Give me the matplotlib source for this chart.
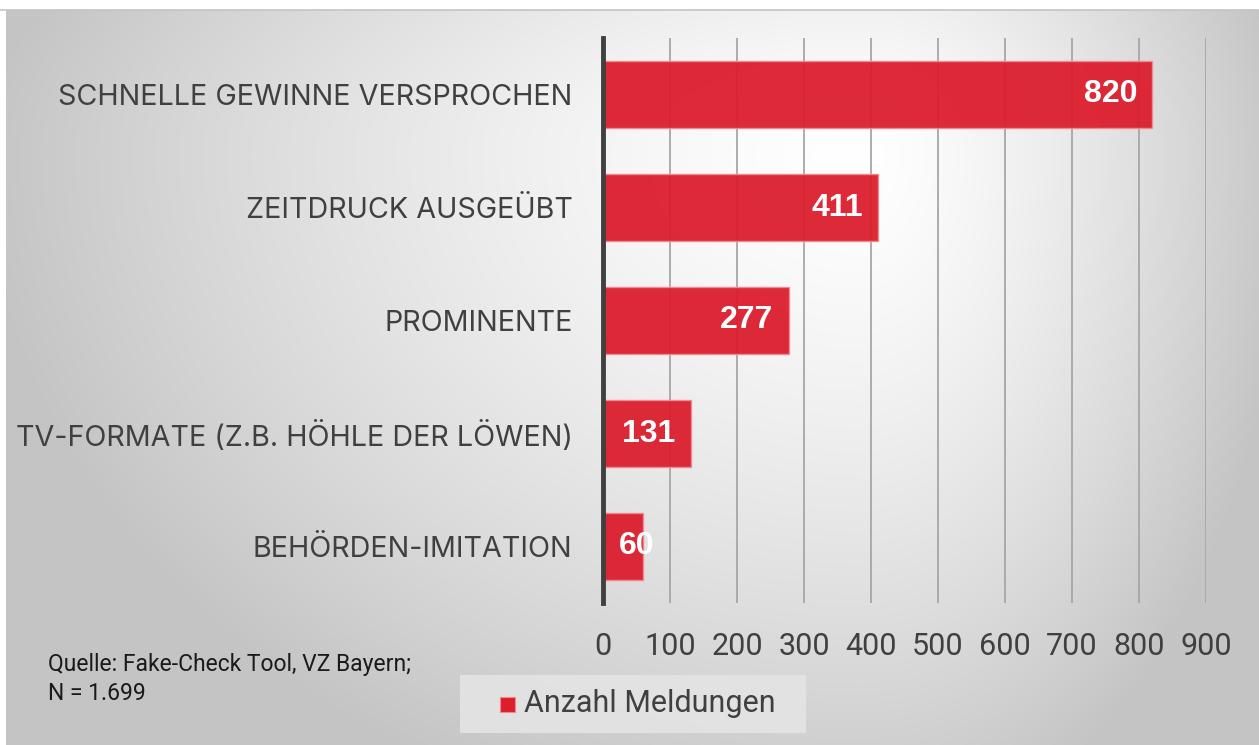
import numpy as np
import matplotlib
matplotlib.use("Agg")
import matplotlib.pyplot as plt
from matplotlib.patches import Rectangle

categories = ["SCHNELLE GEWINNE VERSPROCHEN", "ZEITDRUCK AUSGEÜBT", "PROMINENTE",
              "TV-FORMATE (Z.B. HÖHLE DER LÖWEN)", "BEHÖRDEN-IMITATION"]
values = [820, 411, 277, 131, 60]
xticks = [0, 100, 200, 300, 400, 500, 600, 700, 800, 900]
series_name = "Anzahl Meldungen"
source_lines = ["Quelle: Fake-Check Tool, VZ Bayern;", "N = 1.699"]

W, H = 1259, 745
fig = plt.figure(figsize=(W/100, H/100), dpi=100)
fig.patch.set_facecolor("white")

# background gradient panel
bg = fig.add_axes([6/W, 0, 1-6/W, 1-10/H])
bg.set_axis_off()
ny, nx = 370, 630
yy, xx = np.mgrid[0:ny, 0:nx]
px = xx / nx * (W-6) + 6
py = yy / ny * (H-10) + 10
cx, cy = 860, 150
rx = np.where(px > cx, 430.0, 880.0)
ry = np.where(py > cy, 700.0, 400.0)
r = np.sqrt(((px-cx)/rx)**2 + ((py-cy)/ry)**2)
val = 1.0 - 0.23*np.clip(r, 0, 1.0)**1.4
img = np.dstack([val, val, val])
bg.imshow(img, aspect="auto", extent=[0, 1, 0, 1], origin="upper", interpolation="bilinear")
fig.add_artist(plt.Line2D([0, 1], [1-9.5/H, 1-9.5/H], transform=fig.transFigure, color="#c4c4c4", lw=1.2))

ax = fig.add_axes([603/W, 1-603/H, (1206-603)/W, (603-38)/H])
ax.patch.set_alpha(0)
y = np.arange(len(categories))
ax.barh(y, values, height=0.6, color="#dc1e2d", alpha=0.95, edgecolor="#f08a92", linewidth=1.0, zorder=3)
ax.set_xlim(0, 900)
ax.set_ylim(len(categories)-0.5, -0.5)
ax.set_xticks(xticks)
ax.set_xticklabels([str(t) for t in xticks])
ax.set_yticks(y)
ax.set_yticklabels(categories)
ax.grid(axis="x", color="#a6a6a6", lw=1.3, zorder=1)
ax.set_axisbelow(True)
for s in ["top", "right", "bottom"]:
    ax.spines[s].set_visible(False)
ax.spines["left"].set_color("#404040")
ax.spines["left"].set_linewidth(3.5)
ax.spines["left"].set_zorder(5)
ax.tick_params(axis="both", length=0, colors="#404040")
ax.tick_params(axis="x", pad=21, labelsize=22)
ax.tick_params(axis="y", pad=22, labelsize=20.7)
for lbl in ax.get_xticklabels():
    lbl.set_fontfamily("Roboto")
for lbl in ax.get_yticklabels():
    lbl.set_fontfamily("Inter")

for i, v in enumerate(values):
    if v >= 100:
        ax.annotate(str(v), xy=(v, i), xytext=(-11, 0), textcoords="offset points",
                    ha="right", va="center", color="white", fontsize=23, fontweight="bold",
                    family="Liberation Sans", zorder=6)
    else:
        ax.annotate(str(v), xy=(0, i), xytext=(11.5, 0), textcoords="offset points",
                    ha="left", va="center", color="white", fontsize=23, fontweight="bold",
                    family="Liberation Sans", zorder=6)

# legend
leg_x0, leg_y0, leg_x1, leg_y1 = 460, 675, 806, 733
fig.add_artist(Rectangle((leg_x0/W, 1-leg_y1/H), (leg_x1-leg_x0)/W, (leg_y1-leg_y0)/H,
                         transform=fig.transFigure, facecolor="#e4e4e4", edgecolor="none", alpha=0.9))
fig.add_artist(Rectangle((500/W, 1-712/H), 15/W, 15/H, transform=fig.transFigure,
                         facecolor="#dc1e2d", edgecolor="#f08a92", lw=0.8))
fig.text(524/W, 1-704/H, series_name, fontsize=22, color="#404040", family="Roboto", va="center", ha="left")

fig.text(48/W, 1-665/H, source_lines[0], fontsize=16.5, color="#1a1a1a", family="Roboto", va="center")
fig.text(48/W, 1-693/H, source_lines[1], fontsize=16.5, color="#1a1a1a", family="Roboto", va="center")

fig.savefig("out.png", dpi=100, facecolor="white")
